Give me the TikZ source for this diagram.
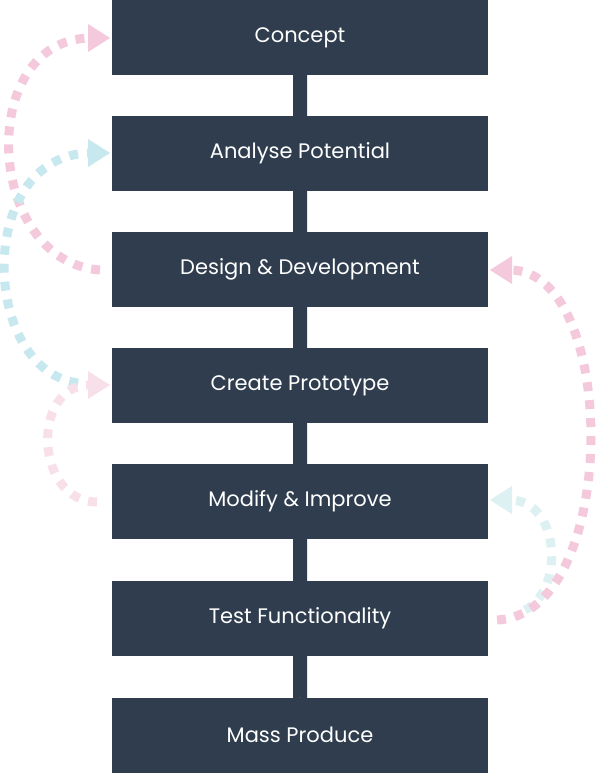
\documentclass[tikz,border=0pt]{standalone}
\usepackage{fontspec}
\setmainfont{Poppins}
\definecolor{boxc}{HTML}{2F3D4E}
\definecolor{pinkA}{HTML}{F4C9DB}
\definecolor{pinkB}{HTML}{F8E0EA}
\definecolor{cyanA}{HTML}{C8E8F0}
\definecolor{cyanB}{HTML}{DDF0F2}
\begin{document}
\begin{tikzpicture}[x=1pt,y=-1pt,
  stepbox/.style={fill=boxc,text=white,minimum width=376pt,minimum height=75pt,inner sep=0pt,font=\fontsize{21}{24}\selectfont},
  loopline/.style={line width=9pt,dash pattern=on 9pt off 9pt}]
\useasboundingbox (0,0) rectangle (600,773);
\foreach \n/\y/\t in {a/37.5/Concept,b/153.5/Analyse Potential,c/269.5/Design \& Development,d/385.5/Create Prototype,e/501.5/Modify \& Improve,f/618.5/Test Functionality,g/735/Mass Produce}{
  \node[stepbox] (\n) at (300,\y) {\t};}
\foreach \u/\v in {a/b,b/c,c/d,d/e,e/f,f/g}{
  \fill[boxc] ([xshift=-7pt]\u.south) -- ([xshift=7pt]\u.south) -- ([xshift=7pt,yshift=-18pt]\v.north) -- ([xshift=15pt,yshift=-18pt]\v.north) -- (\v.north) -- ([xshift=-15pt,yshift=-18pt]\v.north) -- ([xshift=-7pt,yshift=-18pt]\v.north) -- cycle;}
% left loops
\draw[loopline,pinkA] (100,270) .. controls (-15,262) and (-25,40) .. (90,38);
\fill[pinkA] (88,24) -- (110,38) -- (88,52) -- cycle;
\draw[loopline,cyanA] (78,383) .. controls (-20,370) and (-25,155) .. (90,153);
\fill[cyanA] (88,139) -- (110,153) -- (88,167) -- cycle;
\draw[loopline,pinkB] (97,502) .. controls (35,502) and (30,385) .. (90,385);
\fill[pinkB] (88,371) -- (110,385) -- (88,399) -- cycle;
% right loops
\draw[loopline,cyanB] (525,610) .. controls (565,590) and (560,500) .. (510,500);
\fill[cyanB] (512,486) -- (490,500) -- (512,514) -- cycle;
\draw[loopline,pinkA] (497,620) .. controls (620,615) and (620,270) .. (510,270);
\fill[pinkA] (512,256) -- (490,270) -- (512,284) -- cycle;
\end{tikzpicture}
\end{document}
